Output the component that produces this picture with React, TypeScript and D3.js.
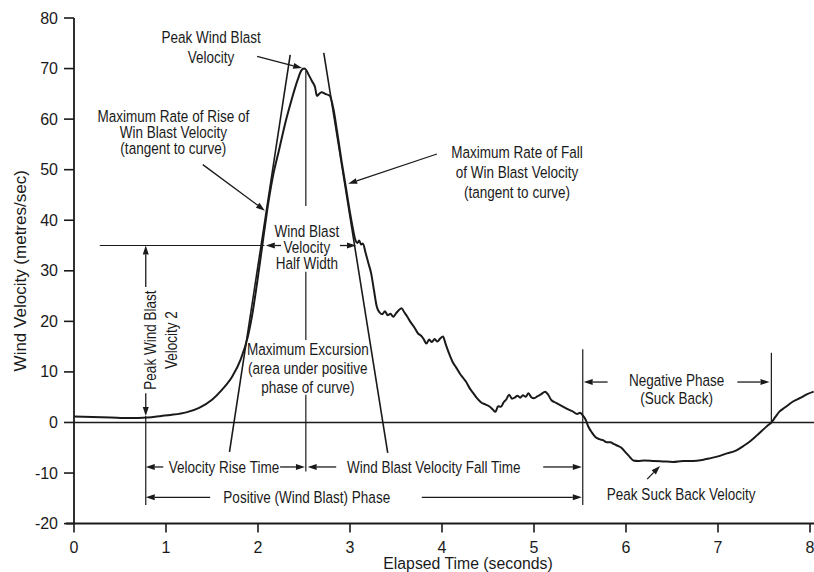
import React from "react";
import * as d3 from "d3";

// Wind blast velocity record (seconds, metres/sec)
const timeS = [
  0.0, 0.2, 0.4, 0.6, 0.8, 0.95, 1.05, 1.22, 1.36, 1.5, 1.61, 1.72, 1.81, 1.89, 1.94, 1.99,
  2.03, 2.06, 2.1, 2.16, 2.23, 2.3, 2.36, 2.43, 2.47, 2.5, 2.52, 2.55, 2.59, 2.62, 2.64, 2.66,
  2.69, 2.73, 2.78, 2.82, 2.86, 2.91, 2.96, 3.0, 3.03, 3.06, 3.08, 3.1, 3.12, 3.14, 3.17, 3.2,
  3.23, 3.26, 3.29, 3.32, 3.35, 3.38, 3.41, 3.44, 3.47, 3.5, 3.53, 3.56, 3.59, 3.62, 3.66, 3.7,
  3.74, 3.77, 3.8, 3.83, 3.86, 3.89, 3.92, 3.95, 3.98, 4.01, 4.04, 4.08, 4.12, 4.15, 4.19, 4.23,
  4.26, 4.3, 4.34, 4.38, 4.43, 4.48, 4.52, 4.55, 4.58, 4.61, 4.64, 4.67, 4.7, 4.73, 4.76, 4.79,
  4.82, 4.85, 4.88, 4.91, 4.94, 4.97, 5.0, 5.04, 5.08, 5.12, 5.15, 5.19, 5.24, 5.3, 5.36, 5.42,
  5.47, 5.5, 5.53, 5.56, 5.59, 5.63, 5.67, 5.71, 5.75, 5.79, 5.83, 5.87, 5.91, 5.95, 6.0, 6.04,
  6.08, 6.13, 6.2, 6.3, 6.4, 6.51, 6.62, 6.73, 6.83, 6.91, 7.0, 7.08, 7.2, 7.28, 7.35, 7.42,
  7.48, 7.54, 7.58, 7.62, 7.67, 7.73, 7.82, 7.9, 7.97, 8.04,
];
const velocity = [
  1.2, 1.1, 1.0, 0.9, 1.0, 1.3, 1.5, 2.0, 2.9, 4.5, 6.5, 9.1, 12.4, 17.0, 21.6, 27.6,
  32.8, 36.8, 42.0, 48.5, 54.0, 59.5, 63.5, 67.7, 69.6, 70.0, 69.8, 68.8, 67.4, 66.3, 64.6, 64.9,
  65.3, 65.0, 64.6, 62.0, 57.5, 51.5, 46.0, 41.5, 38.5, 36.0, 35.5, 36.0, 35.2, 35.4, 33.5, 31.5,
  29.5, 26.2, 23.0, 21.8, 21.4, 22.0, 21.2, 21.5, 20.9, 21.6, 22.2, 22.6, 21.8, 21.0, 19.8, 18.8,
  17.6, 17.2, 16.5, 15.6, 16.4, 15.9, 16.5, 16.0, 16.6, 17.0, 15.5, 13.5, 11.8, 11.0, 9.8, 8.8,
  8.1, 6.8, 5.8, 4.8, 3.9, 3.5, 3.1, 2.6, 2.1, 3.2, 3.1, 4.0, 4.6, 5.5, 4.7, 4.9,
  5.3, 4.9, 5.4, 5.1, 5.8, 5.0, 4.8, 5.2, 5.6, 6.1, 5.6, 4.4, 3.9, 3.3, 2.7, 2.2,
  1.7, 1.9, 1.4, 0.6, -0.8, -2.0, -2.9, -3.3, -3.5, -3.9, -3.9, -4.3, -4.6, -5.0, -6.0, -6.8,
  -7.5, -7.6, -7.5, -7.6, -7.7, -7.8, -7.6, -7.6, -7.4, -7.1, -6.7, -6.2, -5.5, -4.6, -3.7, -2.6,
  -1.6, -0.6, 0.0, 1.0, 2.2, 3.0, 4.2, 4.9, 5.6, 6.1,
];

const xTicks = [0, 1, 2, 3, 4, 5, 6, 7, 8];
const yTicks = [-20, -10, 0, 10, 20, 30, 40, 50, 60, 70, 80];

const W = 814;
const H = 572;
const SANS = "'Liberation Sans', Arial, Helvetica, sans-serif";
const INK = "#1a1a1a";
const CONDENSE = 0.82; // horizontal squeeze for the narrow callout lettering

type Pt = [number, number];

export default function App() {
  const x = d3.scaleLinear().domain([0, 8]).range([74, 810]);
  const y = d3.scaleLinear().domain([-20, 80]).range([523.6, 18]);

  const pts: Pt[] = timeS.map((t, i) => [t, velocity[i]]);
  const line = d3
    .line<Pt>()
    .x((d) => x(d[0]))
    .y((d) => y(d[1]))
    .curve(d3.curveMonotoneX);

  const seg = (a: Pt, b: Pt, w = 1.2) => (
    <line
      x1={x(a[0])}
      y1={y(a[1])}
      x2={x(b[0])}
      y2={y(b[1])}
      stroke={INK}
      strokeWidth={w}
    />
  );

  // line from tail to tip, with a filled head at the tip
  const arrow = (tail: Pt, tip: Pt, w = 1.3) => {
    const x1 = x(tail[0]);
    const y1 = y(tail[1]);
    const x2 = x(tip[0]);
    const y2 = y(tip[1]);
    const ang = Math.atan2(y2 - y1, x2 - x1);
    const len = 9;
    const hw = 3;
    const bx = x2 - len * Math.cos(ang);
    const by = y2 - len * Math.sin(ang);
    const px = -Math.sin(ang) * hw;
    const py = Math.cos(ang) * hw;
    return (
      <g>
        <line x1={x1} y1={y1} x2={bx} y2={by} stroke={INK} strokeWidth={w} />
        <path d={`M${x2},${y2}L${bx + px},${by + py}L${bx - px},${by - py}Z`} fill={INK} />
      </g>
    );
  };

  // condensed, centred, multi-line callout text
  const label = (cx: number, cy: number, lines: string[], gap: number, rotate = 0) => (
    <g fontFamily={SANS} fontSize={16.5} fill={INK} textAnchor="middle">
      {lines.map((s, i) => (
        <text
          key={i}
          transform={
            rotate
              ? `translate(${cx + i * gap},${cy}) rotate(${rotate}) scale(${CONDENSE},1)`
              : `translate(${cx},${cy + i * gap}) scale(${CONDENSE},1)`
          }
          dominantBaseline="central"
        >
          {s}
        </text>
      ))}
    </g>
  );

  const riseRow = -8.8;
  const posRow = -14.8;
  const peakT = 2.52;
  const onsetT = 0.78;
  const endT = 5.53;
  const zeroT = 7.58;

  return (
    <svg width={W} height={H} style={{ position: "absolute", left: 0, top: 0, background: "#fff" }}>
      <rect width={W} height={H} fill="#fff" />

      {/* axes */}
      <line x1={x(0)} y1={y(80)} x2={x(0)} y2={y(-20)} stroke={INK} strokeWidth={1.8} />
      <line x1={x(0) - 8} y1={y(-20)} x2={W} y2={y(-20)} stroke={INK} strokeWidth={2} />
      <line x1={x(0)} y1={y(0)} x2={W} y2={y(0)} stroke={INK} strokeWidth={1.4} />
      {yTicks.map((v) => (
        <g key={`yt${v}`}>
          <line x1={x(0) - 10} x2={x(0)} y1={y(v)} y2={y(v)} stroke={INK} strokeWidth={1.6} />
          <text
            x={x(0) - 16}
            y={y(v)}
            textAnchor="end"
            dominantBaseline="central"
            fontFamily={SANS}
            fontSize={16}
            fill={INK}
          >
            {v}
          </text>
        </g>
      ))}
      {xTicks.map((t) => (
        <g key={`xt${t}`}>
          <line x1={x(t)} x2={x(t)} y1={y(-20)} y2={y(-20) + 9} stroke={INK} strokeWidth={1.6} />
          <text
            x={x(t)}
            y={y(-20) + 24}
            textAnchor="middle"
            dominantBaseline="central"
            fontFamily={SANS}
            fontSize={16}
            fill={INK}
          >
            {t}
          </text>
        </g>
      ))}
      <text
        x={468}
        y={563}
        textAnchor="middle"
        dominantBaseline="central"
        fontFamily={SANS}
        fontSize={15.8}
        fill={INK}
      >
        Elapsed Time (seconds)
      </text>
      <text
        transform={`translate(20,${y(30)}) rotate(-90)`}
        textAnchor="middle"
        dominantBaseline="central"
        fontFamily={SANS}
        fontSize={17}
        fill={INK}
      >
        Wind Velocity (metres/sec)
      </text>

      {/* tangent lines at maximum rise and fall */}
      {seg([1.69, -5.8], [2.35, 72.7], 1.6)}
      {seg([2.715, 73.1], [3.41, -6.0], 1.6)}

      {/* velocity trace */}
      <path d={line(pts) ?? ""} fill="none" stroke={INK} strokeWidth={2} strokeLinejoin="round" />

      {/* peak vertical */}
      {seg([peakT, 69.5], [peakT, 42.8])}
      {seg([peakT, 29.8], [peakT, 16.3])}
      {seg([peakT, 5.5], [peakT, -9.7])}

      {/* half-peak reference level */}
      {seg([0.28, 35], [2.07, 35])}
      {arrow([2.25, 35], [2.085, 35])}
      {arrow([2.89, 35], [3.065, 35])}

      {/* peak / 2 measure at onset */}
      {arrow([onsetT, 26.8], [onsetT, 35])}
      {arrow([onsetT, 5.8], [onsetT, 1.3])}
      {seg([onsetT, 1.3], [onsetT, -16.3])}
      {label(x(onsetT) + 4, y(16.3), ["Peak Wind Blast", "Velocity 2"], 21, -90)}

      {/* rise / fall time row */}
      {arrow([0.97, riseRow], [onsetT, riseRow])}
      {arrow([2.24, riseRow], [peakT - 0.01, riseRow])}
      {arrow([2.85, riseRow], [peakT + 0.02, riseRow])}
      {arrow([5.1, riseRow], [endT - 0.01, riseRow])}
      {label(x(1.63), y(riseRow), ["Velocity Rise Time"], 0)}
      {label(x(3.91), y(riseRow), ["Wind Blast Velocity Fall Time"], 0)}

      {/* positive phase row */}
      {arrow([1.48, posRow], [onsetT, posRow])}
      {arrow([3.78, posRow], [endT - 0.01, posRow])}
      {label(x(2.53), y(posRow), ["Positive (Wind Blast) Phase"], 0)}

      {/* negative phase */}
      {seg([endT, 14.5], [endT, -16.3])}
      {seg([zeroT, 13.8], [zeroT, 0])}
      {arrow([5.8, 8.0], [endT + 0.01, 8.0])}
      {arrow([7.21, 8.0], [zeroT - 0.02, 8.0])}
      {label(x(6.55), y(8.4), ["Negative Phase", "(Suck Back)"], 18)}

      {/* peak suck back */}
      {arrow([6.23, -11.2], [6.37, -8.6])}
      {label(x(6.6), y(-14.1), ["Peak Suck Back Velocity"], 0)}

      {/* peak wind blast velocity */}
      {arrow([1.99, 72.4], [2.48, 70.1])}
      {label(x(1.49), y(76.2), ["Peak Wind Blast", "Velocity"], 19.5)}

      {/* rise tangent callout */}
      {arrow([1.4, 51], [2.075, 41.9])}
      {label(x(1.08), y(60.7), ["Maximum Rate of Rise of", "Win Blast Velocity", "(tangent to curve)"], 16.3)}

      {/* fall tangent callout */}
      {arrow([3.945, 53.1], [2.98, 47.2])}
      {label(x(4.815), y(53.5), ["Maximum Rate of Fall", "of Win Blast Velocity", "(tangent to curve)"], 20)}

      {/* half width and excursion labels */}
      {label(x(peakT) + 1, y(37.9), ["Wind Blast", "Velocity", "Half Width"], 16.2)}
      {label(x(peakT) + 2, y(14.5), ["Maximum Excursion", "(area under positive", "phase of curve)"], 18.7)}
    </svg>
  );
}
